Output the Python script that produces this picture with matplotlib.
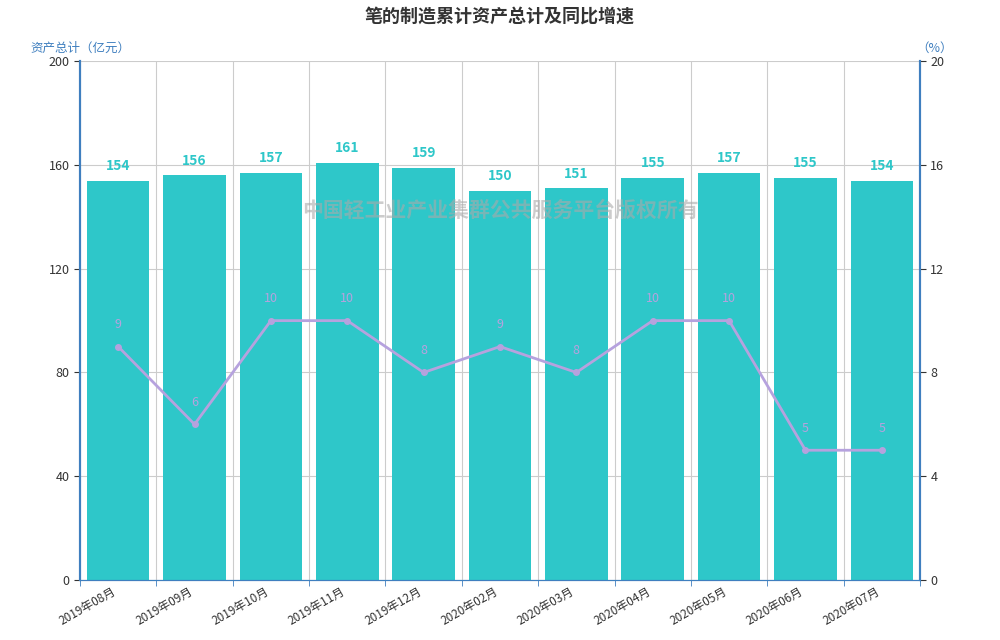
import matplotlib.pyplot as plt
import numpy as np

plt.rcParams['font.family'] = ['Noto Sans CJK SC', 'DejaVu Sans']

months = ['2019年08月', '2019年09月', '2019年10月', '2019年11月', '2019年12月',
          '2020年02月', '2020年03月', '2020年04月', '2020年05月', '2020年06月', '2020年07月']
assets = [154, 156, 157, 161, 159, 150, 151, 155, 157, 155, 154]
growth = [9, 6, 10, 10, 8, 9, 8, 10, 10, 5, 5]

bar_c = '#2ec7c9'
line_c = '#b6a2de'
axis_c = '#3f7fbf'

fig = plt.figure(figsize=(10, 6.4), dpi=100)
ax = fig.add_axes([0.08, 0.094, 0.84, 0.81])
ax2 = ax.twinx()

x = np.arange(len(months))
ax.bar(x, assets, width=0.82, color=bar_c, zorder=2)
for xi, v in zip(x, assets):
    ax.text(xi, v + 3, str(v), ha='center', va='bottom', color=bar_c,
            fontsize=10, fontweight='bold')

ax2.plot(x, growth, color=line_c, lw=2, marker='o', ms=4, zorder=3)
for xi, v in zip(x, growth):
    ax2.text(xi, v + 0.6, str(v), ha='center', va='bottom', color=line_c, fontsize=9)

ax.set_xlim(-0.5, len(months) - 0.5)
ax.set_ylim(0, 200)
ax2.set_ylim(0, 20)
ax.set_yticks(np.arange(0, 201, 40))
ax2.set_yticks(np.arange(0, 21, 4))
ax.set_xticks(x)
ax.set_xticklabels(months, rotation=30, ha='right', fontsize=8.5, color='#333333')
ax.set_xticks(np.arange(-0.5, len(months), 1), minor=True)
ax.grid(axis='y', color='#cccccc', lw=0.8, zorder=0)
ax.grid(axis='x', which='minor', color='#cccccc', lw=0.8, zorder=0)
ax.tick_params(axis='x', which='major', length=0)
ax.tick_params(axis='x', which='minor', length=4, color=axis_c)
ax.tick_params(axis='y', labelsize=9, colors='#333333', length=4)
ax2.tick_params(axis='y', labelsize=9, colors='#333333', length=4)

for a in (ax, ax2):
    a.spines['top'].set_visible(False)
    a.spines['left'].set_color(axis_c)
    a.spines['right'].set_color(axis_c)
    a.spines['bottom'].set_color(axis_c)
    a.spines['left'].set_linewidth(1.5)
    a.spines['right'].set_linewidth(1.5)

fig.text(0.5, 0.975, '笔的制造累计资产总计及同比增速', ha='center', va='center',
         fontsize=13, fontweight='bold', color='#333333')
fig.text(0.03, 0.925, '资产总计（亿元）', ha='left', va='center', fontsize=9, color=axis_c)
fig.text(0.935, 0.925, '（%）', ha='center', va='center', fontsize=9, color=axis_c)
fig.text(0.5, 0.672, '中国轻工业产业集群公共服务平台版权所有', ha='center', va='center',
         fontsize=15, color='#aaaaaa', alpha=0.6, fontweight='bold')

fig.savefig('out.png', dpi=100)
